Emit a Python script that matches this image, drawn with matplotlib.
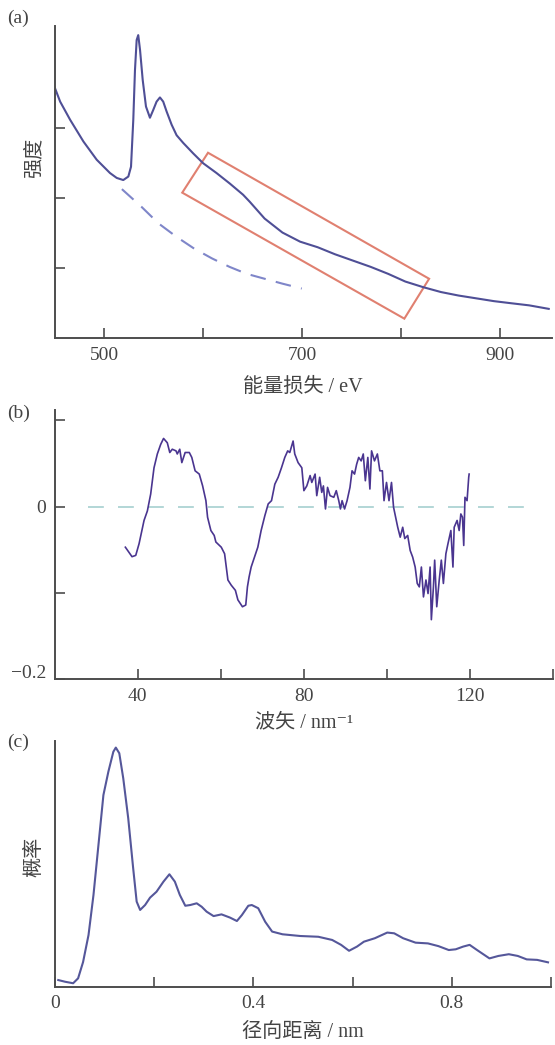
import matplotlib.pyplot as plt
import matplotlib.transforms as mtransforms
from matplotlib.patches import Polygon

plt.rcParams['font.family'] = ['Liberation Serif', 'Noto Sans CJK SC', 'DejaVu Sans']

# (a) 能量损失谱
energy = [450, 455.7, 465.8, 479.2, 492.6, 506, 512.8, 519.4, 524.5, 527.2, 529.5, 531.2,
          532.9, 534.5, 536.3, 539, 542.3, 546.3, 549.6, 553, 556.4, 559.7, 563.1, 568.2,
          573.2, 579.9, 590, 600, 613.5, 626.9, 640.3, 647, 662, 680, 697.8,
          715.6, 733, 751, 769, 786.7, 804, 822, 840, 857.8, 875.7, 893.5, 911, 929, 948.7]
intensity = [3.59, 3.38, 3.12, 2.81, 2.55, 2.36, 2.29, 2.26, 2.31, 2.45, 3.12, 3.83,
             4.26, 4.33, 4.12, 3.69, 3.31, 3.15, 3.26, 3.38, 3.44, 3.38, 3.24, 3.05,
             2.90, 2.79, 2.64, 2.50, 2.36, 2.21, 2.05, 1.95, 1.71, 1.51, 1.38,
             1.30, 1.20, 1.11, 1.02, 0.92, 0.81, 0.73, 0.66, 0.61, 0.57, 0.53, 0.50, 0.47, 0.42]
bg_energy = [518, 537.6, 555, 573, 591, 609, 626.6, 644, 662, 680, 699.5]
bg_intensity = [2.13, 1.88, 1.64, 1.45, 1.28, 1.14, 1.02, 0.92, 0.85, 0.78, 0.71]
box_energy = [578.9, 604.9, 828.0, 803.0]
box_intensity = [2.08, 2.65, 0.85, 0.28]

# (b) 振荡部分
wavevector = [37.0, 38.6, 39.5, 40.3, 41.5, 42.3, 43.1, 43.9, 44.7, 45.5, 46.2, 47.1, 47.7,
              48.3, 49.2, 49.5, 50.1, 50.6, 51.4, 52.4, 53.0, 53.8, 54.8, 55.6, 56.4, 56.8,
              57.6, 58.4, 58.8, 60.1, 60.9, 61.7, 62.5, 63.5, 64.1, 65.2, 66.0, 66.4, 66.8,
              67.3, 68.1, 68.9, 69.7, 70.6, 71.4, 72.2, 73.0, 73.8, 74.6, 75.4, 76.1, 76.6,
              77.4, 77.8, 78.6, 79.5, 80.0, 80.7, 81.5, 81.9, 82.7, 83.1, 83.8, 84.3, 84.7,
              85.2, 85.7, 86.3, 87.2, 87.8, 88.4, 88.8, 89.2, 89.8, 90.4, 91.1, 91.6, 92.2,
              92.7, 93.2, 93.8, 94.3, 94.8, 95.4, 95.9, 96.3, 97.0, 97.7, 98.3, 98.9, 99.3,
              99.9, 100.5, 101.1, 101.6, 102.1, 102.6, 103.2, 103.8, 104.3, 105.0, 105.6,
              106.2, 106.8, 107.3, 107.8, 108.3, 108.8, 109.4, 109.9, 110.4, 110.7, 111.2,
              111.5, 112.0, 112.6, 113.1, 113.6, 114.2, 114.7, 115.4, 115.9, 116.2, 116.9,
              117.4, 117.8, 118.2, 118.5, 118.8, 119.3, 119.7, 119.8]
chi = [-0.047, -0.058, -0.0565, -0.043, -0.016, -0.005, 0.0146, 0.045, 0.061, 0.072, 0.079,
       0.074, 0.0627, 0.0665, 0.0646, 0.061, 0.0665, 0.051, 0.0627, 0.0627, 0.057, 0.0415,
       0.0377, 0.0242, 0.0069, -0.0123, -0.0277, -0.0334, -0.041, -0.047, -0.0546, -0.085,
       -0.091, -0.097, -0.108, -0.116, -0.114, -0.093, -0.0815, -0.070, -0.0585, -0.047,
       -0.0277, -0.0104, 0.0031, 0.0069, 0.026, 0.034, 0.045, 0.057, 0.0646, 0.0627,
       0.076, 0.061, 0.051, 0.045, 0.0185, 0.024, 0.036, 0.028, 0.0377, 0.0127, 0.034,
       0.0165, 0.024, -0.0027, 0.0223, 0.0127, 0.0108, 0.0185, 0.0069, -0.0027, 0.0069,
       -0.0027, 0.0069, 0.0223, 0.0415, 0.0377, 0.049, 0.057, 0.053, 0.061, 0.030, 0.057,
       0.0204, 0.0646, 0.053, 0.061, 0.0415, 0.0415, 0.0069, 0.028, 0.0069, 0.028,
       -0.0008, -0.0123, -0.0239, -0.0354, -0.0239, -0.037, -0.0334, -0.0508, -0.0585,
       -0.070, -0.089, -0.093, -0.070, -0.1046, -0.085, -0.1007, -0.070, -0.131, -0.093,
       -0.062, -0.116, -0.085, -0.062, -0.089, -0.0546, -0.043, -0.0277, -0.070, -0.0239,
       -0.016, -0.0277, -0.0085, -0.0123, -0.045, 0.0108, 0.0069, 0.034, 0.0377]

# (c) 径向分布函数
radius = [0.007, 0.021, 0.037, 0.047, 0.057, 0.068, 0.078, 0.088, 0.098, 0.108, 0.118,
          0.123, 0.130, 0.138, 0.148, 0.158, 0.165, 0.172, 0.182, 0.192, 0.205, 0.219,
          0.231, 0.242, 0.252, 0.263, 0.273, 0.286, 0.296, 0.306, 0.320, 0.336, 0.353,
          0.367, 0.377, 0.390, 0.397, 0.410, 0.424, 0.438, 0.459, 0.495, 0.531, 0.559,
          0.577, 0.593, 0.609, 0.623, 0.645, 0.670, 0.684, 0.702, 0.727, 0.752, 0.773,
          0.794, 0.808, 0.823, 0.836, 0.851, 0.876, 0.894, 0.915, 0.933, 0.951, 0.972,
          0.994]
probability = [0.027, 0.020, 0.014, 0.034, 0.100, 0.210, 0.373, 0.576, 0.779, 0.874, 0.955,
               0.972, 0.949, 0.847, 0.685, 0.481, 0.346, 0.312, 0.332, 0.362, 0.386, 0.427,
               0.457, 0.427, 0.373, 0.329, 0.332, 0.339, 0.325, 0.305, 0.287, 0.294, 0.281,
               0.267, 0.291, 0.329, 0.332, 0.319, 0.264, 0.224, 0.213, 0.206, 0.203, 0.190,
               0.170, 0.146, 0.163, 0.183, 0.197, 0.220, 0.217, 0.197, 0.179, 0.176, 0.165,
               0.149, 0.152, 0.163, 0.170, 0.149, 0.115, 0.125, 0.132, 0.125, 0.111, 0.109,
               0.099]

axis_color = '#4d4d4d'
text_color = '#444444'


def style(ax):
    for s in ['top', 'right']:
        ax.spines[s].set_visible(False)
    for s in ['left', 'bottom']:
        ax.spines[s].set_color(axis_color)
        ax.spines[s].set_linewidth(1.4)
    ax.tick_params(direction='in', length=7, width=1.2, color=axis_color,
                   labelsize=14, labelcolor=text_color, pad=6)


fig = plt.figure(figsize=(5.55, 10.45), dpi=100)
ax_a = fig.add_axes([0.0982, 0.6763, 0.8964, 0.2988])
ax_b = fig.add_axes([0.0987, 0.3500, 0.8977, 0.2577])
ax_c = fig.add_axes([0.0987, 0.0558, 0.8941, 0.2354])

# (a)
style(ax_a)
ax_a.plot(energy, intensity, color='#4f4f96', lw=1.5)
ax_a.plot(bg_energy, bg_intensity, color='#7f86c9', lw=1.5, dashes=(7.5, 5))
ax_a.add_patch(Polygon(list(zip(box_energy, box_intensity)), closed=True,
                       fill=False, edgecolor='#e08070', lw=1.5))
ax_a.set_xlim(450, 952)
ax_a.set_ylim(0, 4.46)
ax_a.set_xticks([500, 600, 700, 800, 900], ['500', '', '700', '', '900'])
ax_a.set_yticks([1, 2, 3], ['', '', ''])
ax_a.set_xlabel('能量损失 / eV', fontsize=14.5, color=text_color)
ax_a.xaxis.set_label_coords(0.5, -0.156)
ax_a.xaxis.label.set_va('center')
ax_a.set_ylabel('强度', fontsize=14.5, color=text_color)
ax_a.yaxis.set_label_coords(-0.039, 0.577)
ax_a.yaxis.label.set_va('center')

# (b)
style(ax_b)
ax_b.plot([28, 134], [0, 0], color='#a6cfcf', lw=1.2, dashes=(9.5, 8.5))
ax_b.plot(wavevector, chi, color='#4a3590', lw=1.2)
ax_b.set_xlim(20, 140)
ax_b.set_ylim(-0.2, 0.112)
ax_b.set_xticks([40, 60, 80, 100, 120, 140], ['40', '', '80', '', '120', ''])
ax_b.set_yticks([-0.2, -0.1, 0, 0.1], ['\u22120.2', '', '0', ''])
lab = ax_b.get_yticklabels()[0]
lab.set_transform(lab.get_transform() + mtransforms.ScaledTranslation(0, 8 / 100, fig.dpi_scale_trans))
ax_b.set_xlabel('波矢 / nm\u207b\u00b9', fontsize=14.5, color=text_color)
ax_b.xaxis.set_label_coords(0.5, -0.162)
ax_b.xaxis.label.set_va('center')

# (c)
style(ax_c)
ax_c.plot(radius, probability, color='#55579a', lw=1.5)
ax_c.set_xlim(0, 1.0)
ax_c.set_ylim(0, 1.0)
ax_c.set_xticks([0, 0.2, 0.4, 0.6, 0.8, 1.0], ['0', '', '0.4', '', '0.8', ''])
ax_c.set_yticks([])
ax_c.set_xlabel('径向距离 / nm', fontsize=14.5, color=text_color)
ax_c.xaxis.set_label_coords(0.5, -0.184)
ax_c.xaxis.label.set_va('center')
ax_c.set_ylabel('概率', fontsize=14.5, color=text_color)
ax_c.yaxis.set_label_coords(-0.04, 0.527)
ax_c.yaxis.label.set_va('center')

for y, tag in [(0.9828, '(a)'), (0.6048, '(b)'), (0.2900, '(c)')]:
    fig.text(0.0126, y, tag, fontsize=14, color=text_color, va='center', ha='left')

fig.savefig('out.png', dpi=100)
